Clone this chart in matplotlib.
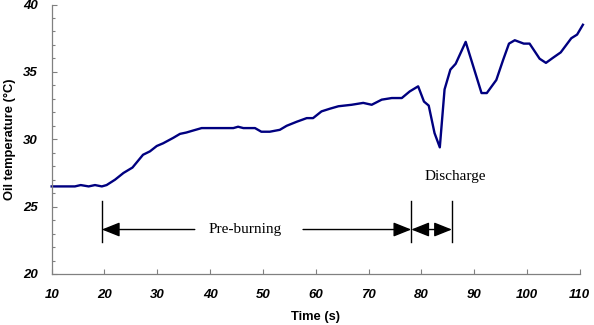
import matplotlib
matplotlib.use("Agg")
import matplotlib.pyplot as plt
from matplotlib.ticker import MultipleLocator

# Data
time_s = [10, 14.4, 15.5, 17.0, 18.2, 19.5, 20.4, 22.0, 23.6, 25.3, 27.3, 28.6, 29.9,
          31.1, 33.0, 34.3, 35.5, 36.8, 38.4, 44.4, 45.3, 46.3, 48.5, 49.7, 51.3,
          53.2, 54.5, 56.4, 58.3, 59.5, 61.1, 62.7, 64.3, 66.8, 69.0, 70.6, 72.5,
          74.4, 76.3, 77.8, 79.4, 80.5, 81.4, 82.5, 83.5, 84.4, 85.5, 86.5, 88.4,
          91.4, 92.4, 94.2, 95.5, 96.6, 97.7, 99.4, 100.5, 102.4, 103.6, 104.9,
          106.4, 108.4, 109.5, 110.6]
oil_temp = [26.5, 26.5, 26.6, 26.5, 26.6, 26.5, 26.6, 27.0, 27.5, 27.9, 28.85, 29.1, 29.5,
            29.7, 30.1, 30.4, 30.5, 30.65, 30.83, 30.83, 30.93, 30.83, 30.83, 30.56, 30.56,
            30.7, 31.0, 31.3, 31.57, 31.57, 32.07, 32.27, 32.45, 32.56, 32.7, 32.56, 32.94,
            33.06, 33.06, 33.55, 33.93, 32.8, 32.5, 30.46, 29.4, 33.7, 35.17, 35.6, 37.23,
            33.43, 33.43, 34.4, 35.9, 37.1, 37.35, 37.1, 37.1, 35.98, 35.67, 36.04,
            36.45, 37.5, 37.77, 38.5]

x_ticks = [10, 20, 30, 40, 50, 60, 70, 80, 90, 100, 110]
y_ticks = [20, 25, 30, 35, 40]

# Annotation positions (data units)
phase_marks = [19.5, 78.1, 85.8]
mark_y = (22.35, 25.4)
arrow_y = 23.3
pre_text_x = 46.7
pre_gap = (37.1, 57.6)
discharge_xy = (86.5, 27.2)

fig = plt.figure(figsize=(5.94, 3.25), dpi=100)
ax = fig.add_axes([0.087, 0.157, 0.889, 0.829])

ax.plot(time_s, oil_temp, color="#000080", lw=1.7, solid_joinstyle="round",
        clip_on=False)

ax.set_xlim(10, 110)
ax.set_ylim(20, 40)
ax.set_xticks(x_ticks)
ax.set_yticks(y_ticks)
ax.yaxis.set_minor_locator(MultipleLocator(1))

for s in ["top", "right"]:
    ax.spines[s].set_visible(False)
for s in ["left", "bottom"]:
    ax.spines[s].set_color("#808080")
    ax.spines[s].set_linewidth(0.9)

ax.tick_params(axis="both", which="major", direction="in", length=3.5, width=0.8,
               color="#808080")
ax.tick_params(axis="y", which="minor", direction="in", length=2.5, width=0.8,
               color="#808080")
ax.tick_params(axis="x", pad=11)
ax.tick_params(axis="y", pad=10)

for lab in ax.get_xticklabels() + ax.get_yticklabels():
    lab.set_fontfamily("Liberation Sans")
    lab.set_fontweight("bold")
    lab.set_fontstyle("italic")
    lab.set_fontsize(9.5)

ax.set_xlabel("Time (s)", fontfamily="Liberation Sans", fontweight="bold", fontsize=9.3,
              labelpad=7)
ax.set_ylabel("Oil temperature (\u00b0C)", fontfamily="Liberation Sans",
              fontweight="bold", fontsize=9.3, labelpad=5)

# Phase markers
for xm in phase_marks:
    ax.plot([xm, xm], list(mark_y), color="black", lw=1.0)

head = dict(color="black", lw=1.0, mutation_scale=11, shrinkA=0, shrinkB=0)
ax.annotate("", xy=(phase_marks[0], arrow_y), xytext=(pre_gap[0], arrow_y),
            arrowprops=dict(arrowstyle="-|>,head_length=1.0,head_width=0.4", **head))
ax.annotate("", xy=(phase_marks[1], arrow_y), xytext=(pre_gap[1], arrow_y),
            arrowprops=dict(arrowstyle="-|>,head_length=1.0,head_width=0.4", **head))
ax.annotate("", xy=(phase_marks[2], arrow_y), xytext=(phase_marks[1], arrow_y),
            arrowprops=dict(arrowstyle="<|-|>,head_length=1.0,head_width=0.4", **head))

ax.text(pre_text_x, arrow_y, "Pre-burning", ha="center", va="center",
        fontfamily="Liberation Serif", fontsize=11)
ax.text(discharge_xy[0], discharge_xy[1], "Discharge", ha="center", va="center",
        fontfamily="Liberation Serif", fontsize=11)

fig.savefig("out.png", dpi=100)
